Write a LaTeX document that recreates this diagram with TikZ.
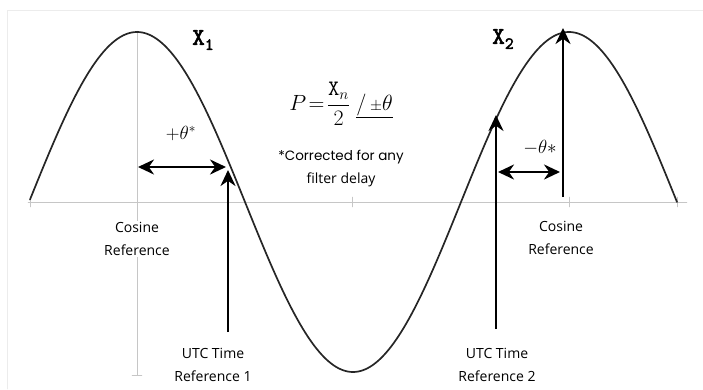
\documentclass[tikz,border=0pt]{standalone}
\usepackage{fontspec}
\usepackage{fix-cm}
\setmainfont{Open Sans}
\newfontfamily\roundfont{Poppins}
\newfontfamily\ttbold[FakeBold=2.5]{lmmono10-regular.otf}
\usetikzlibrary{arrows.meta}
\begin{document}
\begin{tikzpicture}[x=1pt,y=-1pt,line join=round,line cap=round,>={Stealth[length=16pt,width=15pt]},thick]
	\tikzset{every node/.style={font=\fontsize{14}{23}\selectfont,align=center,inner sep=1pt},
		guide/.style={draw=gray!45,thin},
		bigarrow/.style={line width=2.6pt,line cap=butt},
		wave/.style={draw=black!85,line width=1.7pt},
		peaklabel/.style={font=\ttbold\fontsize{24}{24}\selectfont},
		anglelabel/.style={font=\fontsize{19}{19}\selectfont}}
	\useasboundingbox (0,0) rectangle (703,389);
	\draw[gray!15] (7,389)--(7,10)--(703,10);
	% axis and guides
	\draw[guide] (28,202)--(687,202);
	\foreach \x in {30,137,352,569,677}
	\draw[guide] (\x,197)--(\x,207);
	\draw[guide] (137,31)--(137,375);
	\draw[guide] (132,375)--(142,375);
	% the wave
	\draw[wave,samples=300,domain=30:677,smooth,variable=\x] plot (\x,{202-170*cos((\x-137)/432*360)});
	% labels
	\node[peaklabel] (x1) at (203,40) {X\raisebox{-5pt}{\fontsize{17}{17}\selectfont 1}};
	\node[peaklabel] (x2) at (503,39) {X\raisebox{-5pt}{\fontsize{17}{17}\selectfont 2}};
	\node[fill=white] (cos1) at (137,239) {Cosine\\Reference};
	\node (cos2) at (561,238) {Cosine\\Reference};
	\node (utc1) at (213,365) {UTC Time\\Reference 1};
	\node (utc2) at (497,365) {UTC Time\\Reference 2};
	\node (note) at (341,169) {\roundfont\fontsize{13.5}{24}\selectfont *Corrected for any\\filter delay};
	\node[anglelabel] (pth) at (181,133) {$+\theta^{*}$};
	\node[anglelabel] (mth) at (540,148) {$-\theta{*}$};
	\node (pform) at (341,104) {\fontsize{22}{22}\selectfont$\displaystyle P\!=\!\frac{\mathtt{X}_n}{2}\;\underline{/\,{\scriptstyle\pm}\theta}$};
	% arrows
	\coordinate (t1) at (228,332); \coordinate (c1) at (228,170);
	\coordinate (t2) at (496,329); \coordinate (c2) at (496,115);
	\coordinate (r2b) at (563,197); \coordinate (r2t) at (563,28);
	\coordinate (a1) at (138,167); \coordinate (b1) at (226,167);
	\coordinate (a2) at (498,172); \coordinate (b2) at (560,172);
	\draw[bigarrow,->] (t1)--(c1);
	\draw[bigarrow,->] (t2)--(c2);
	\draw[bigarrow,->] (r2b)--(r2t);
	\draw[bigarrow,<->] (a1)--(b1);
	\draw[bigarrow,<->] (a2)--(b2);
\end{tikzpicture}
\end{document}
